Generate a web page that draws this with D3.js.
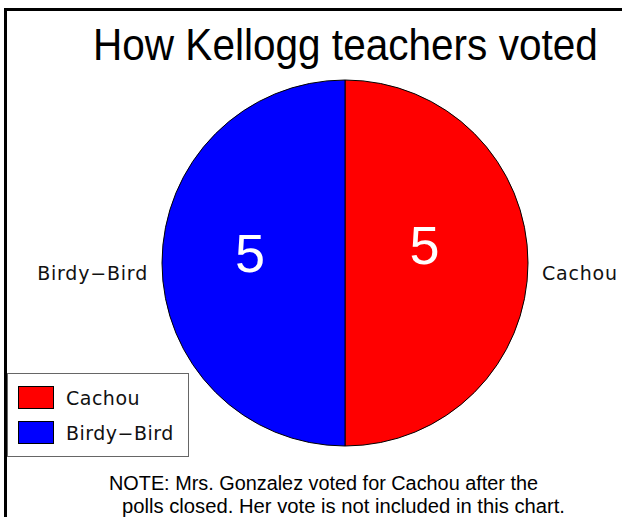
<!DOCTYPE html>
<html><head><meta charset="utf-8">
<script src="https://cdn.jsdelivr.net/npm/d3@7"></script>
<style>html,body{margin:0;padding:0;background:#fff;}svg{display:block;}</style>
</head><body>
<svg id="c" width="622" height="517"></svg>
<script>
const title = "How Kellogg teachers voted";
const categories = ["Cachou", "Birdy\u2212Bird"];
const votes = [5, 5];
const colors = ["#ff0000", "#0000ff"];
const noteLines = ["NOTE: Mrs. Gonzalez voted for Cachou after the", "polls closed. Her vote is not included in this chart."];

const svg = d3.select("#c");
const W = 622, H = 517;
const cx = 345, cy = 263, r = 183;
const hersh = "'DejaVu Sans', sans-serif";

// frame
svg.append("rect").attr("x", 0).attr("y", 0).attr("width", W).attr("height", H).attr("fill", "#fff");
svg.append("path").attr("d", `M5.5,${H} V9.5 H${W}`).attr("fill", "none").attr("stroke", "#000").attr("stroke-width", 3);

// title (slightly condensed to match reference width)
const titleText = svg.append("text").attr("x", 0).attr("y", 0).attr("text-anchor", "start")
  .attr("font-family", "'Liberation Sans', Arial, sans-serif").attr("font-size", 44)
  .text(title);
const tw = titleText.node().getComputedTextLength();
titleText.attr("transform", `translate(93,60) scale(${505 / tw},1)`);

// pie: Cachou from 12 o'clock clockwise
const pie = d3.pie().sort(null).value(d => d)(votes);
const arc = d3.arc().innerRadius(0).outerRadius(r);
const g = svg.append("g").attr("transform", `translate(${cx},${cy})`);
g.selectAll("path.slice").data(pie).join("path").attr("class", "slice")
  .attr("d", arc).attr("fill", (d, i) => colors[i])
  .attr("stroke", "#000").attr("stroke-width", 1);

// value labels (placed near each slice's centroid)
const labelShift = [[-12, 1], [-3.5, 9]];
g.selectAll("text.val").data(pie).join("text").attr("class", "val")
  .attr("x", (d, i) => arc.centroid(d)[0] + labelShift[i][0])
  .attr("y", (d, i) => arc.centroid(d)[1] + labelShift[i][1])
  .attr("text-anchor", "middle").attr("fill", "#fff")
  .attr("font-family", "'Liberation Sans', Arial, sans-serif").attr("font-size", 54)
  .text(d => d.data);

// outer labels
g.selectAll("text.cat").data(pie).join("text").attr("class", "cat")
  .attr("x", (d) => { const a = (d.startAngle + d.endAngle) / 2; return Math.sin(a) * (r + 14); })
  .attr("y", (d) => { const a = (d.startAngle + d.endAngle) / 2; return -Math.cos(a) * (r + 14) + 17; })
  .attr("text-anchor", (d) => ((d.startAngle + d.endAngle) / 2 < Math.PI ? "start" : "end"))
  .attr("font-family", hersh).attr("font-size", 19).attr("fill", "#111")
  .attr("letter-spacing", 0.8)
  .text((d, i) => categories[i]);

// legend
const lg = svg.append("g");
lg.append("rect").attr("x", 7.5).attr("y", 373.5).attr("width", 181).attr("height", 83)
  .attr("fill", "#fff").attr("stroke", "#666").attr("stroke-width", 1);
const items = lg.selectAll("g.item").data(categories).join("g").attr("class", "item")
  .attr("transform", (d, i) => `translate(0,${i * 35})`);
items.append("rect").attr("x", 18.5).attr("y", 386.5).attr("width", 35).attr("height", 22)
  .attr("fill", (d, i) => colors[i]).attr("stroke", "#000").attr("stroke-width", 1);
items.append("text").attr("x", 66).attr("y", 405).attr("font-family", hersh).attr("font-size", 19)
  .attr("letter-spacing", 0.5).attr("fill", "#111").text(d => d);

// note
const noteX = [109, 122], noteLen = [429, 443];
svg.selectAll("text.note").data(noteLines).join("text").attr("class", "note")
  .attr("x", (d, i) => noteX[i]).attr("y", (d, i) => 490 + i * 23)
  .attr("font-family", "'Liberation Sans', Arial, sans-serif").attr("font-size", 19.5)
  .attr("textLength", (d, i) => noteLen[i]).attr("lengthAdjust", "spacingAndGlyphs")
  .text(d => d);
</script>
</body></html>
